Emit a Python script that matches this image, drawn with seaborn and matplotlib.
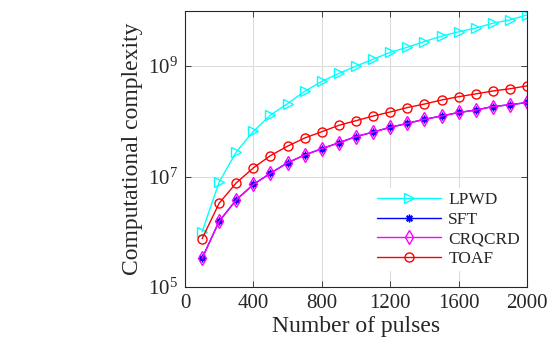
import numpy as np
import pandas as pd
import seaborn as sns
import matplotlib.pyplot as plt
from matplotlib.ticker import FixedLocator, NullLocator

# values
pulses = [100, 200, 300, 400, 500, 600, 700, 800, 900, 1000,
          1100, 1200, 1300, 1400, 1500, 1600, 1700, 1800, 1900, 2000]
lpwd = [1.0e6, 8.0e6, 2.8e7, 6.6e7, 1.3e8, 2.1e8, 3.5e8, 5.3e8, 7.4e8, 1.0e9,
        1.34e9, 1.78e9, 2.2e9, 2.8e9, 3.5e9, 4.2e9, 4.9e9, 6.0e9, 6.9e9, 8.5e9]
sft = [3.3e5, 1.55e6, 3.8e6, 7.2e6, 1.15e7, 1.78e7, 2.46e7, 3.2e7, 4.1e7, 5.3e7,
       6.4e7, 7.8e7, 9.2e7, 1.09e8, 1.25e8, 1.45e8, 1.6e8, 1.86e8, 2.0e8, 2.2e8]
crqcrd = [3.3e5, 1.55e6, 3.8e6, 7.2e6, 1.15e7, 1.78e7, 2.46e7, 3.2e7, 4.1e7, 5.3e7,
          6.4e7, 7.8e7, 9.2e7, 1.09e8, 1.25e8, 1.45e8, 1.6e8, 1.86e8, 2.0e8, 2.2e8]
toaf = [7.5e5, 3.3e6, 7.7e6, 1.44e7, 2.4e7, 3.56e7, 5.0e7, 6.5e7, 8.5e7, 1.03e8,
        1.25e8, 1.48e8, 1.78e8, 2.06e8, 2.44e8, 2.8e8, 3.15e8, 3.55e8, 3.9e8, 4.4e8]

x_ticks = [0, 400, 800, 1200, 1600, 2000]
y_ticks = [1e5, 1e7, 1e9]

sns.set_theme(style='whitegrid')
plt.rcParams['font.family'] = ['Liberation Serif', 'DejaVu Serif']
plt.rcParams['mathtext.fontset'] = 'custom'
plt.rcParams['mathtext.rm'] = 'Liberation Serif'
plt.rcParams['mathtext.it'] = 'Liberation Serif:italic'

fig = plt.figure(figsize=(5.53, 3.49), dpi=100)
ax = fig.add_axes([0.3345, 0.1777, 0.6185, 0.7908])

# name, values, colour, marker, marker size
series = [
    ('LPWD', lpwd, '#00FFFF', '>', 6.5),
    ('SFT', sft, '#0000FF', (8, 2, 0), 5.5),
    ('CRQCRD', crqcrd, '#FF00FF', 'd', 7),
    ('TOAF', toaf, '#FF0000', 'o', 6.5),
]
for name, vals, col, mk, ms in series:
    df = pd.DataFrame({'pulses': pulses, 'value': vals})
    sns.lineplot(data=df, x='pulses', y='value', ax=ax, color=col, label=name,
                 marker=mk, markersize=ms, markerfacecolor='none',
                 markeredgecolor=col, markeredgewidth=1.0, linewidth=1.0)

ax.set_yscale('log')
ax.set_xlim(0, 2000)
ax.set_ylim(1e5, 1e10)
ax.xaxis.set_major_locator(FixedLocator(x_ticks))
ax.set_xticklabels([str(v) for v in x_ticks])
ax.yaxis.set_major_locator(FixedLocator(y_ticks))
ax.yaxis.set_minor_locator(NullLocator())
ax.set_yticklabels([r'$10^{5}$', r'$10^{7}$', r'$10^{9}$'])

ax.set_xlabel('Number of pulses', fontsize=17, color='#262626', labelpad=2)
ax.set_ylabel('Computational complexity', fontsize=17, color='#262626', labelpad=4)
ax.tick_params(axis='both', which='major', labelsize=15, colors='#262626',
               direction='in', length=4, width=0.6, top=True, right=True,
               bottom=True, left=True, pad=5)
ax.grid(True, color='#DCDCDC', linewidth=0.8)
ax.set_facecolor('white')
for s in ax.spines.values():
    s.set_color('#262626')
    s.set_linewidth(0.8)

leg = ax.legend(loc='lower right', bbox_to_anchor=(0.99, 0.06), borderaxespad=0,
                fontsize=12.5, frameon=True, handlelength=3.7, handletextpad=0.4,
                labelspacing=0.2, borderpad=0.2)
leg.get_frame().set_edgecolor('white')
leg.get_frame().set_facecolor('white')
leg.get_frame().set_alpha(1.0)
for t in leg.get_texts():
    t.set_color('#262626')

fig.savefig('out.png', dpi=100, facecolor='white')
